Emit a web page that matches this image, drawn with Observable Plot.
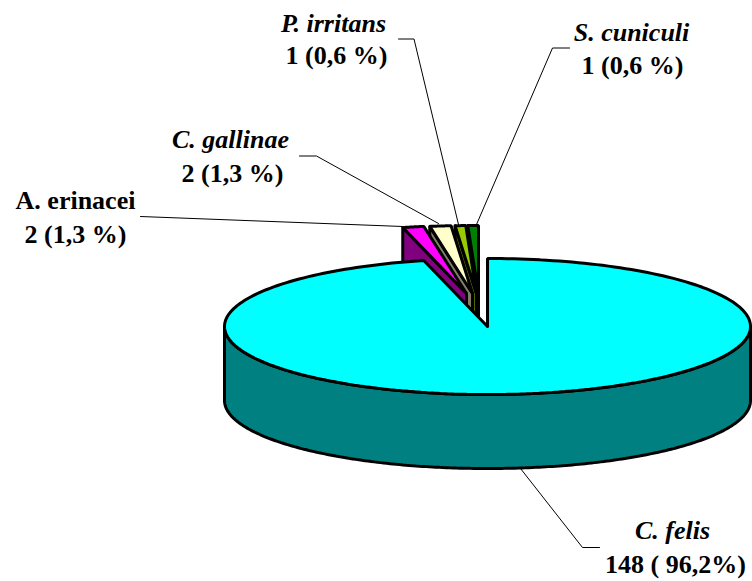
<!DOCTYPE html>
<html>
<head>
<meta charset="utf-8">
<style>html,body{margin:0;padding:0;background:#fff}svg{display:block;background:#fff}</style>
<script src="https://cdn.jsdelivr.net/npm/d3@7"></script>
<script src="https://cdn.jsdelivr.net/npm/@observablehq/plot@0.6"></script>
</head>
<body>
<div id="chart"></div>
<script>
// Data
const species = ["C. felis", "A. erinacei", "C. gallinae", "P. irritans", "S. cuniculi"];
const counts = [148, 2, 2, 1, 1];
const percents = ["148 ( 96,2%)", "2 (1,3 %)", "2 (1,3 %)", "1 (0,6 %)", "1 (0,6 %)"];
const topColors = ["#00FFFF", "#FF00FF", "#FFFFCC", "#99CC00", "#008000"];
const sideColors = ["#008080", "#800080", "#80806A", "#4D6600", "#004000"];

// Layout of the tilted pie
const W = 752, H = 581;
const cx = 487, cy = 326, rx = 263, ry = 68, depth = 74;
const explodeX = [0, -21, -15, -11, -9];
const explodeY = [0, -33, -33, -33, -33];
const italic = [true, false, true, true, true];
const nameAt = [[672, 530], [75, 200], [230, 139], [333, 23], [631, 32]];
const valueAt = [[675, 564], [75, 234], [232, 173], [336, 55], [632, 65]];
const leaders = [
  [[520, 468], [582, 547], [599, 547]],
  [[140, 216], [402, 226]],
  [[299, 155.5], [316, 155.5], [438, 223]],
  [[398, 38.5], [413.5, 38.5], [458, 224]],
  [[569, 47.5], [552, 47.5], [476, 224]]
];

// Angles run clockwise from twelve o'clock
const total = d3.sum(counts);
let running = 0;
const slices = counts.map((c, i) => {
  const a0 = running / total * 2 * Math.PI;
  running += c;
  return {i, a0, a1: running / total * 2 * Math.PI};
});
const pt = (a, i = 0, down = 0) => [
  cx + rx * Math.sin(a) + explodeX[i],
  cy - ry * Math.cos(a) + explodeY[i] + down
];
const arc = (a0, a1, i, down = 0) => d3.range(0, 241).map(k => pt(a0 + (a1 - a0) * k / 240, i, down));

const polygons = [];
const add = (points, fill) => polygons.push({points: [...points, points[0]], fill});

// Small exploded slices: cut walls right to left, then tops left to right
const small = [1, 2, 3, 4];
[...small].reverse().forEach(i => {
  const corner = pt(slices[i].a0, i);
  const apex = [cx + explodeX[i], cy + explodeY[i]];
  add([corner, apex, [apex[0], apex[1] + depth], [corner[0], corner[1] + depth]], sideColors[i]);
});
small.forEach(i => {
  const apex = [cx + explodeX[i], cy + explodeY[i]];
  add([apex, ...arc(slices[i].a0, slices[i].a1, i)], topColors[i]);
});
// Main slice: outer wall for the front half, then the top
const {a0: f0, a1: f1} = slices[0];
add([...arc(Math.PI / 2, Math.PI * 1.5, 0), ...arc(Math.PI * 1.5, Math.PI / 2, 0, depth)], sideColors[0]);
add([[cx, cy], ...arc(f0, f1, 0)], topColors[0]);

const labelFont = {fontFamily: "'Liberation Serif', serif", fontWeight: "bold", fontSize: 26, fill: "black", textAnchor: "middle"};
const ids = species.map((s, i) => i);

const chart = Plot.plot({
  width: W,
  height: H,
  margin: 0,
  x: {domain: [0, W], range: [0, W], axis: null},
  y: {domain: [0, H], range: [0, H], axis: null},
  style: {background: "white"},
  marks: [
    ...leaders.map(l => Plot.line(l, {x: d => d[0], y: d => d[1], stroke: "black", strokeWidth: 1, curve: "linear"})),
    ...polygons.map(p => Plot.line(p.points, {
      x: d => d[0], y: d => d[1], fill: p.fill, stroke: "black",
      strokeWidth: 3, strokeLinejoin: "miter", curve: "linear"
    })),
    Plot.text(ids.filter(i => italic[i]), {
      x: i => nameAt[i][0], y: i => nameAt[i][1], text: i => species[i], fontStyle: "italic", ...labelFont
    }),
    Plot.text(ids.filter(i => !italic[i]), {
      x: i => nameAt[i][0], y: i => nameAt[i][1], text: i => species[i], ...labelFont
    }),
    Plot.text(ids, {
      x: i => valueAt[i][0], y: i => valueAt[i][1], text: i => percents[i], ...labelFont
    })
  ]
});
document.getElementById("chart").appendChild(chart);
</script>
</body>
</html>
